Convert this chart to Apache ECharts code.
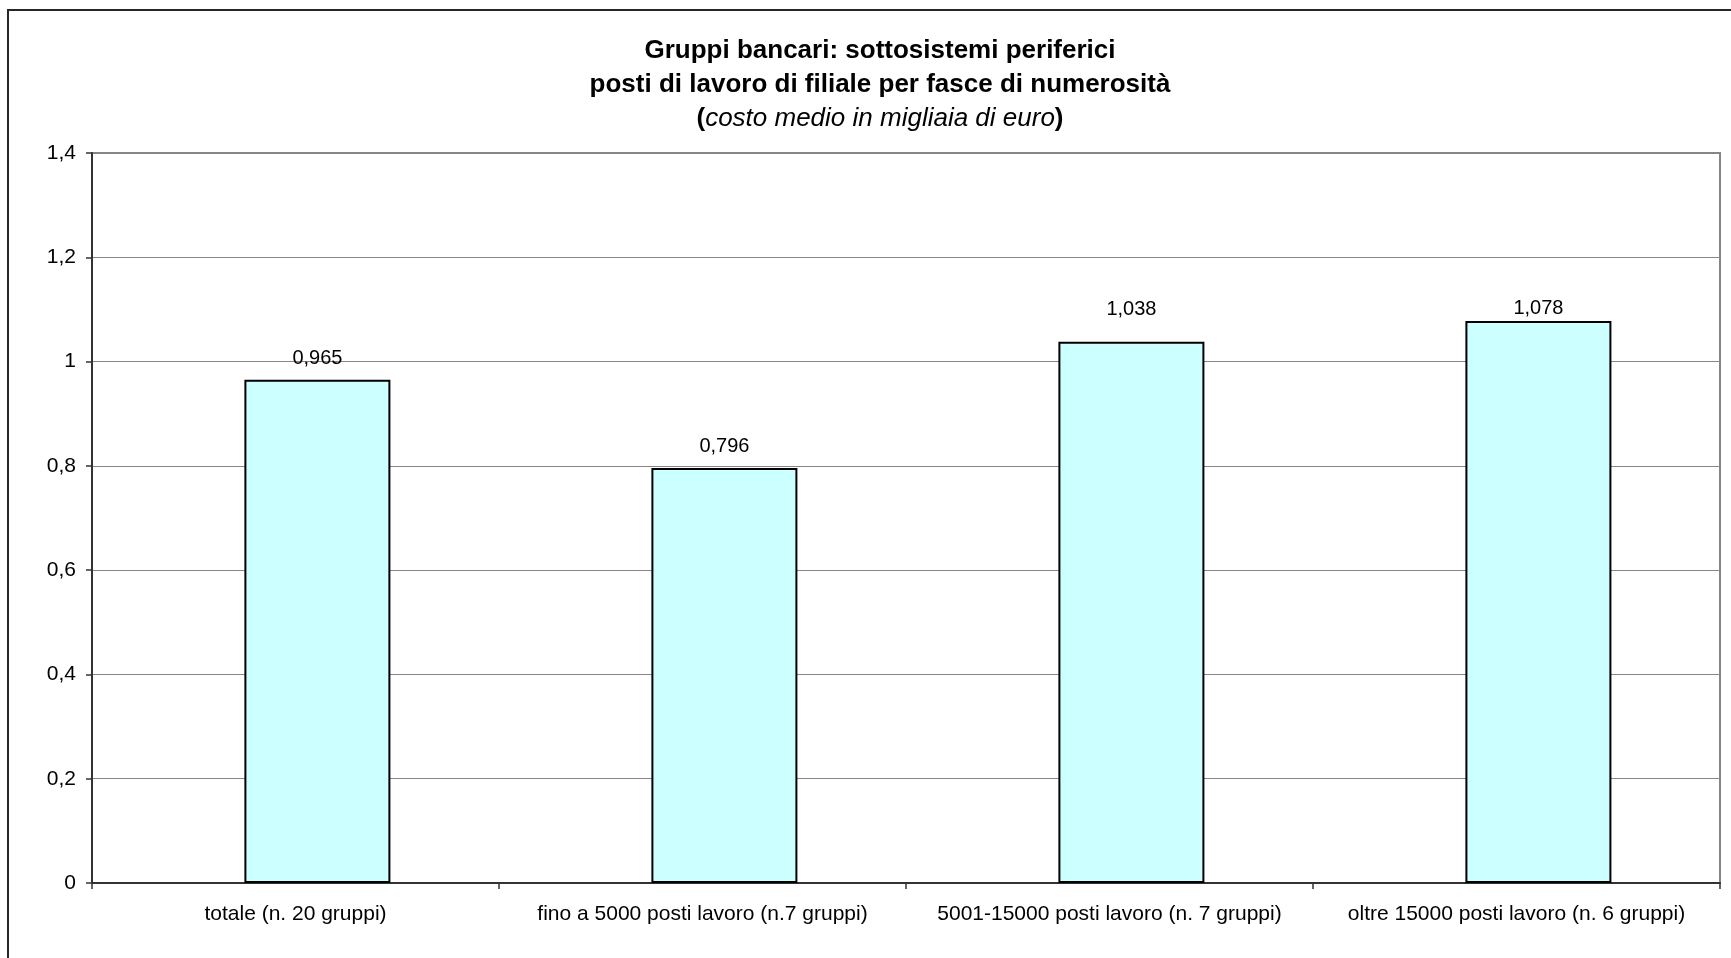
<!DOCTYPE html>
<html>
<head>
<meta charset="utf-8">
<script src="https://cdn.jsdelivr.net/npm/echarts@6/dist/echarts.min.js"></script>
<style>
html,body{margin:0;padding:0;background:#fff;}
#chart{width:1731px;height:958px;}
</style>
</head>
<body>
<div id="chart"></div>
<script>
const categories = [
  'totale (n. 20 gruppi)',
  'fino a 5000 posti lavoro (n.7 gruppi)',
  '5001-15000 posti lavoro (n. 7 gruppi)',
  'oltre 15000 posti lavoro (n. 6 gruppi)'
];
const costoMedio = [0.965, 0.796, 1.038, 1.078];
const spacer = ['-', '-', '-', '-'];
const yMin = 0, yMax = 1.4, yStep = 0.2;
const titleLines = [
  'Gruppi bancari: sottosistemi periferici',
  'posti di lavoro di filiale per fasce di numerosità',
  'costo medio in migliaia di euro'
];

const FONT = '"Liberation Sans", Arial, sans-serif';
const comma = v => String(v).replace('.', ',');
// label gaps above each bar (the original's labels sit at uneven heights)
const labelGap = [11, 11, 22, 2];

const chart = echarts.init(document.getElementById('chart'));
chart.setOption({
  animation: false,
  backgroundColor: '#ffffff',
  graphic: [{
    type: 'rect',
    silent: true,
    shape: { x: 8, y: 10, width: 2000, height: 2000 },
    style: { fill: null, stroke: '#262626', lineWidth: 2 }
  }],
  title: {
    text: titleLines[0] + '\n' + titleLines[1] + '\n{b|(}{i|' + titleLines[2] + '}{b|)}',
    left: 880,
    top: 34,
    padding: 0,
    textAlign: 'center',
    textStyle: {
      fontFamily: FONT, fontSize: 26, fontWeight: 'bold', color: '#000', lineHeight: 34,
      rich: {
        b: { fontFamily: FONT, fontSize: 26, fontWeight: 'bold', color: '#000', lineHeight: 34 },
        i: { fontFamily: FONT, fontSize: 26, fontWeight: 'normal', fontStyle: 'italic', color: '#000', lineHeight: 34 }
      }
    }
  },
  grid: {
    left: 92, top: 153, right: 11, height: 730,
    show: true, borderColor: '#868686', borderWidth: 2, backgroundColor: 'transparent'
  },
  xAxis: {
    type: 'category',
    data: categories,
    axisLine: { lineStyle: { color: '#333', width: 2 } },
    axisTick: { show: true, length: 6, lineStyle: { color: '#333', width: 1.5 } },
    axisLabel: { fontFamily: FONT, fontSize: 21, color: '#000', margin: 21, interval: 0 },
    splitLine: { show: false }
  },
  yAxis: {
    type: 'value',
    min: yMin, max: yMax, interval: yStep,
    axisLine: { show: true, lineStyle: { color: '#333', width: 2 } },
    axisTick: { show: true, length: 6, lineStyle: { color: '#333', width: 1.5 } },
    axisLabel: {
      fontFamily: FONT, fontSize: 21, color: '#000', margin: 16,
      formatter: v => comma(+v.toFixed(1))
    },
    splitLine: { show: true, lineStyle: { color: '#868686', width: 1 } }
  },
  series: [
    {
      name: 'spacer',
      type: 'bar',
      data: spacer,
      barWidth: 146,
      barGap: '-70%',
      silent: true,
      itemStyle: { color: 'transparent' }
    },
    {
      name: 'costo medio',
      type: 'bar',
      data: costoMedio.map((v, i) => ({ value: v, label: { distance: labelGap[i] } })),
      barWidth: 146,
      itemStyle: { color: '#CCFFFF', borderColor: '#000', borderWidth: 2 },
      label: {
        show: true, position: 'top', distance: 4,
        fontFamily: FONT, fontSize: 20, color: '#000',
        formatter: p => comma(p.value.toFixed(3))
      }
    }
  ]
});
</script>
</body>
</html>
